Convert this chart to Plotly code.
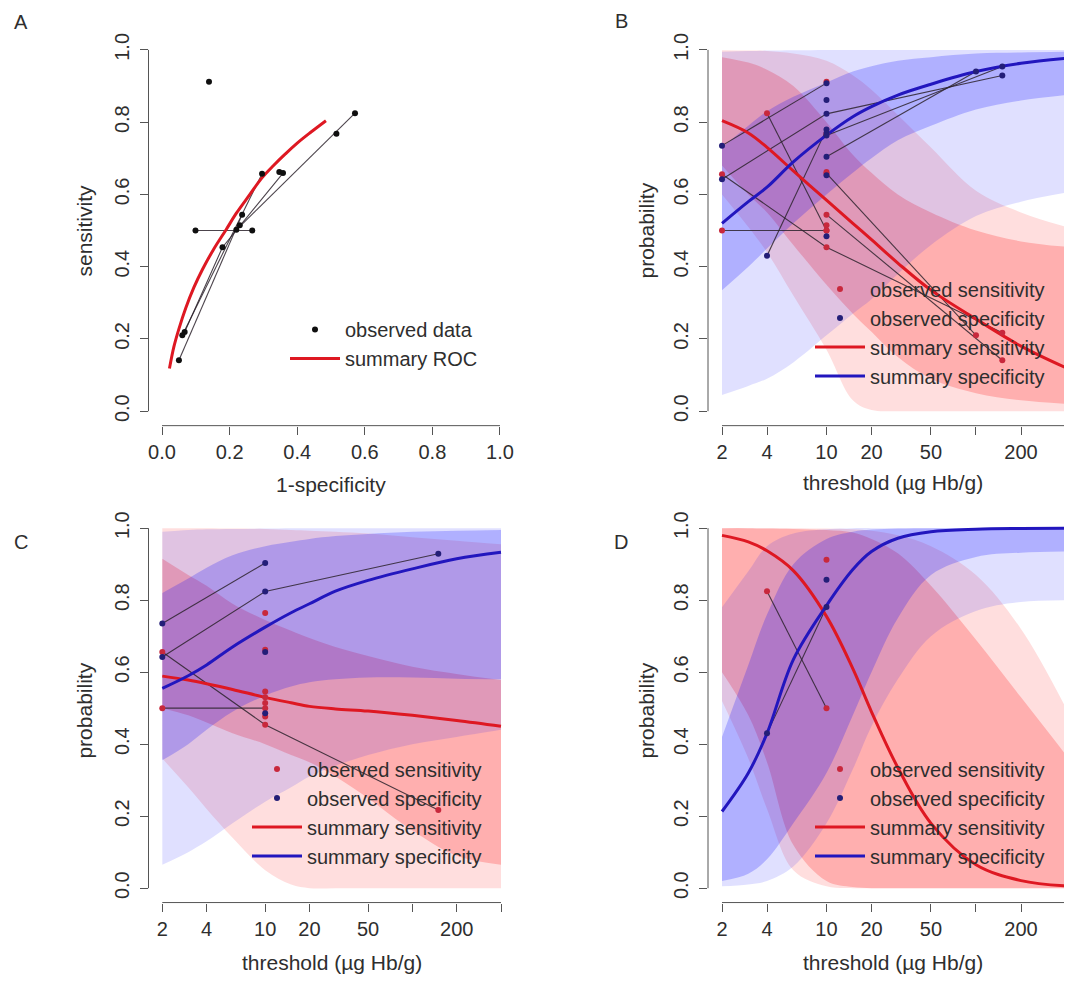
import math
import plotly.graph_objects as go

FONT = "Liberation Sans, Arial, Helvetica, sans-serif"
TXT = "#2e2e2e"
AXC = "#555555"
# the page body adds an offset of about (8, 10) px; the figure is placed so that
# reference pixel coordinates land where they belong
OX, OY = 8, 10
W, H = 1064, 973

# ---------------- Panel A : ROC space ----------------
obs_fpr = [0.139, 0.571, 0.516, 0.296, 0.347, 0.358, 0.237, 0.230, 0.220, 0.099, 0.267, 0.179, 0.067, 0.060, 0.050]
obs_tpr = [0.912, 0.825, 0.768, 0.657, 0.662, 0.659, 0.544, 0.515, 0.502, 0.500, 0.500, 0.454, 0.219, 0.210, 0.141]
roc_study_fpr = [[0.267, 0.099], [0.358, 0.179, 0.067], [0.571, 0.220], [0.296, 0.060], [0.237, 0.050]]
roc_study_tpr = [[0.500, 0.500], [0.659, 0.454, 0.219], [0.825, 0.502], [0.657, 0.210], [0.544, 0.141]]
sroc_fpr = [0.022, 0.035, 0.050, 0.070, 0.094, 0.120, 0.152, 0.190, 0.220, 0.260, 0.295, 0.330, 0.365, 0.400, 0.440, 0.485]
sroc_tpr = [0.118, 0.178, 0.228, 0.285, 0.342, 0.393, 0.447, 0.503, 0.548, 0.600, 0.645, 0.680, 0.712, 0.742, 0.772, 0.804]

# ---------------- threshold grid for panels B-D ----------------
THR = [2, 3, 4, 6, 10, 15, 20, 30, 50, 100, 200, 400]

# ---------------- Panel B ----------------
B_sens = [0.804, 0.770, 0.730, 0.665, 0.584, 0.520, 0.475, 0.410, 0.335, 0.255, 0.180, 0.120]
B_spec = [0.520, 0.580, 0.620, 0.690, 0.764, 0.815, 0.843, 0.875, 0.905, 0.940, 0.963, 0.977]
B_sens_ci_lo = [0.68, 0.60, 0.55, 0.46, 0.35, 0.27, 0.22, 0.15, 0.09, 0.05, 0.03, 0.02]
B_sens_ci_hi = [0.98, 0.965, 0.945, 0.90, 0.80, 0.71, 0.66, 0.60, 0.55, 0.50, 0.47, 0.455]
B_sens_pi_lo = [0.60, 0.51, 0.44, 0.32, 0.17, 0.03, 0.003, 0.0, 0.0, 0.0, 0.0, 0.0]
B_sens_pi_hi = [0.999, 0.998, 0.997, 0.99, 0.97, 0.93, 0.89, 0.82, 0.73, 0.61, 0.55, 0.51]
B_spec_ci_lo = [0.335, 0.40, 0.45, 0.52, 0.60, 0.66, 0.70, 0.75, 0.79, 0.835, 0.86, 0.875]
B_spec_ci_hi = [0.73, 0.79, 0.83, 0.87, 0.91, 0.94, 0.955, 0.97, 0.98, 0.99, 0.993, 0.995]
B_spec_pi_lo = [0.045, 0.07, 0.09, 0.135, 0.21, 0.27, 0.31, 0.38, 0.46, 0.54, 0.58, 0.605]
B_spec_pi_hi = [0.995, 0.997, 0.998, 0.999, 1.0, 1.0, 1.0, 1.0, 1.0, 1.0, 1.0, 1.0]
B_obs_sens_thr = [2, 2, 4, 10, 10, 10, 10, 10, 10, 10, 10, 10, 100, 150, 150]
B_obs_sens = [0.500, 0.656, 0.825, 0.912, 0.768, 0.662, 0.658, 0.544, 0.515, 0.500, 0.500, 0.454, 0.210, 0.217, 0.141]
B_obs_spec_thr = [2, 2, 4, 10, 10, 10, 10, 10, 10, 10, 10, 10, 100, 150, 150]
B_obs_spec = [0.735, 0.642, 0.430, 0.908, 0.861, 0.823, 0.780, 0.770, 0.763, 0.704, 0.653, 0.484, 0.940, 0.929, 0.954]
B_line_thr = [[2, 10], [2, 10, 150], [4, 10], [10, 100], [10, 150]]
B_line_sens = [[0.500, 0.500], [0.656, 0.454, 0.217], [0.825, 0.500], [0.658, 0.210], [0.544, 0.141]]
B_line_spec = [[0.735, 0.908], [0.642, 0.823, 0.929], [0.430, 0.780], [0.704, 0.940], [0.763, 0.954]]

# ---------------- Panel C ----------------
C_sens = [0.589, 0.578, 0.568, 0.552, 0.530, 0.515, 0.505, 0.498, 0.492, 0.480, 0.466, 0.450]
C_spec = [0.555, 0.590, 0.620, 0.670, 0.725, 0.765, 0.790, 0.825, 0.855, 0.887, 0.915, 0.933]
C_sens_ci_lo = [0.50, 0.48, 0.46, 0.43, 0.40, 0.37, 0.35, 0.31, 0.25, 0.16, 0.09, 0.065]
C_sens_ci_hi = [0.915, 0.87, 0.84, 0.79, 0.745, 0.715, 0.695, 0.67, 0.645, 0.615, 0.595, 0.578]
C_sens_pi_lo = [0.36, 0.28, 0.22, 0.14, 0.05, 0.01, 0.0, 0.0, 0.0, 0.0, 0.0, 0.0]
C_sens_pi_hi = [1.0, 1.0, 1.0, 0.999, 0.998, 0.995, 0.993, 0.99, 0.985, 0.975, 0.965, 0.955]
C_spec_ci_lo = [0.355, 0.40, 0.44, 0.49, 0.535, 0.56, 0.572, 0.58, 0.585, 0.585, 0.582, 0.58]
C_spec_ci_hi = [0.82, 0.86, 0.89, 0.925, 0.95, 0.962, 0.97, 0.978, 0.984, 0.99, 0.993, 0.995]
C_spec_pi_lo = [0.065, 0.10, 0.13, 0.18, 0.24, 0.28, 0.31, 0.34, 0.37, 0.40, 0.42, 0.44]
C_spec_pi_hi = [0.99, 0.995, 0.997, 0.998, 0.999, 1.0, 1.0, 1.0, 1.0, 1.0, 1.0, 1.0]
C_obs_sens_thr = [2, 2, 10, 10, 10, 10, 10, 10, 10, 10, 150]
C_obs_sens = [0.500, 0.656, 0.764, 0.662, 0.546, 0.530, 0.514, 0.500, 0.477, 0.454, 0.217]
C_obs_spec_thr = [2, 2, 10, 10, 10, 10, 150]
C_obs_spec = [0.735, 0.642, 0.903, 0.824, 0.656, 0.486, 0.929]
C_line_thr = [[2, 10], [2, 10, 150]]
C_line_sens = [[0.500, 0.500], [0.656, 0.454, 0.217]]
C_line_spec = [[0.735, 0.903], [0.642, 0.824, 0.929]]

# ---------------- Panel D ----------------
D_sens = [0.980, 0.962, 0.937, 0.882, 0.755, 0.610, 0.490, 0.335, 0.180, 0.065, 0.021, 0.006]
D_spec = [0.213, 0.320, 0.430, 0.635, 0.785, 0.885, 0.935, 0.972, 0.990, 0.997, 0.999, 0.9995]
D_sens_ci_lo = [0.60, 0.48, 0.35, 0.12, 0.02, 0.003, 0.0, 0.0, 0.0, 0.0, 0.0, 0.0]
D_sens_ci_hi = [1.0, 1.0, 0.999, 0.998, 0.995, 0.988, 0.97, 0.93, 0.84, 0.69, 0.53, 0.37]
D_sens_pi_lo = [0.52, 0.36, 0.22, 0.05, 0.005, 0.0, 0.0, 0.0, 0.0, 0.0, 0.0, 0.0]
D_sens_pi_hi = [1.0, 1.0, 1.0, 1.0, 0.999, 0.997, 0.993, 0.98, 0.95, 0.87, 0.72, 0.50]
D_spec_ci_lo = [0.02, 0.04, 0.08, 0.18, 0.32, 0.48, 0.60, 0.75, 0.87, 0.92, 0.932, 0.935]
D_spec_ci_hi = [0.42, 0.62, 0.76, 0.90, 0.97, 0.99, 0.996, 0.999, 1.0, 1.0, 1.0, 1.0]
D_spec_pi_lo = [0.005, 0.01, 0.02, 0.06, 0.18, 0.33, 0.45, 0.58, 0.70, 0.77, 0.795, 0.80]
D_spec_pi_hi = [0.78, 0.88, 0.95, 0.985, 0.997, 1.0, 1.0, 1.0, 1.0, 1.0, 1.0, 1.0]
D_obs_sens_thr = [4, 10, 10]
D_obs_sens = [0.825, 0.912, 0.500]
D_obs_spec_thr = [4, 10, 10]
D_obs_spec = [0.430, 0.857, 0.781]
D_line_thr = [[4, 10]]
D_line_sens = [[0.825, 0.500]]
D_line_spec = [[0.430, 0.781]]

# ---------------- tick labels ----------------
PROB_TICKS = [0, 0.2, 0.4, 0.6, 0.8, 1.0]
PROB_LABELS = ["0.0", "0.2", "0.4", "0.6", "0.8", "1.0"]
THR_TICKS = [2, 4, 10, 20, 50, 100, 200, 400]
THR_LABELS = ["2", "4", "10", "20", "50", "", "200", ""]

# ---------------- styling ----------------
RED_PI = "rgba(255,0,0,0.13)"
RED_CI = "rgba(255,0,0,0.21)"
BLUE_PI = "rgba(0,0,255,0.12)"
BLUE_CI = "rgba(0,0,255,0.21)"
RED_LINE = "rgb(222,24,34)"
BLUE_LINE = "rgb(34,22,190)"
RED_DOT = "rgb(200,40,60)"
BLUE_DOT = "rgb(35,30,120)"
STUDY_LINE = "rgba(45,35,45,0.85)"

fig = go.Figure()


def px_x(p):
    return (p - OX) / W


def px_y(p):
    return 1 - (p - OY) / H


LIN_RANGE = [-0.04, 1.04]
B_RANGE = [0.2074, 2.6422]
C_RANGE = [0.2073, 2.6870]

panels = {
    "A": dict(xa="x", ya="y", xd=[px_x(148.5), px_x(513.5)], yd=[px_y(426.5), px_y(35.5)]),
    "B": dict(xa="x2", ya="y2", xd=[px_x(708), px_x(1072)], yd=[px_y(426.5), px_y(35.5)]),
    "C": dict(xa="x3", ya="y3", xd=[px_x(148.5), px_x(513.5)], yd=[px_y(904.4), px_y(514.8)]),
    "D": dict(xa="x4", ya="y4", xd=[px_x(708), px_x(1072)], yd=[px_y(904.4), px_y(514.8)]),
}


def band(p, x, lo, hi, color):
    xa, ya = panels[p]["xa"], panels[p]["ya"]
    fig.add_trace(go.Scatter(x=x, y=lo, xaxis=xa, yaxis=ya, mode="lines",
                             line=dict(width=0, shape="spline"), showlegend=False, hoverinfo="skip"))
    fig.add_trace(go.Scatter(x=x, y=hi, xaxis=xa, yaxis=ya, mode="lines",
                             line=dict(width=0, shape="spline"), fill="tonexty", fillcolor=color,
                             showlegend=False, hoverinfo="skip"))


def threshold_panel(p, legend, sens, spec, sci_lo, sci_hi, spi_lo, spi_hi,
                    pci_lo, pci_hi, ppi_lo, ppi_hi, ls_thr, ls_sens, ls_spec,
                    os_thr, os_val, op_thr, op_val):
    xa, ya = panels[p]["xa"], panels[p]["ya"]
    band(p, THR, spi_lo, spi_hi, RED_PI)
    band(p, THR, sci_lo, sci_hi, RED_CI)
    band(p, THR, ppi_lo, ppi_hi, BLUE_PI)
    band(p, THR, pci_lo, pci_hi, BLUE_CI)
    for t, s in zip(ls_thr, ls_sens):
        fig.add_trace(go.Scatter(x=t, y=s, xaxis=xa, yaxis=ya, mode="lines",
                                 line=dict(color=STUDY_LINE, width=1.1), showlegend=False, hoverinfo="skip"))
    for t, s in zip(ls_thr, ls_spec):
        fig.add_trace(go.Scatter(x=t, y=s, xaxis=xa, yaxis=ya, mode="lines",
                                 line=dict(color=STUDY_LINE, width=1.1), showlegend=False, hoverinfo="skip"))
    fig.add_trace(go.Scatter(x=THR, y=sens, xaxis=xa, yaxis=ya, mode="lines", name="summary sensitivity",
                             line=dict(color=RED_LINE, width=3, shape="spline"), legend=legend, legendrank=3))
    fig.add_trace(go.Scatter(x=THR, y=spec, xaxis=xa, yaxis=ya, mode="lines", name="summary specificity",
                             line=dict(color=BLUE_LINE, width=3, shape="spline"), legend=legend, legendrank=4))
    fig.add_trace(go.Scatter(x=os_thr, y=os_val, xaxis=xa, yaxis=ya, mode="markers", name="observed sensitivity",
                             marker=dict(color=RED_DOT, size=6), legend=legend, legendrank=1))
    fig.add_trace(go.Scatter(x=op_thr, y=op_val, xaxis=xa, yaxis=ya, mode="markers", name="observed specificity",
                             marker=dict(color=BLUE_DOT, size=6), legend=legend, legendrank=2))


# Panel A traces
for fx_, ty_ in zip(roc_study_fpr, roc_study_tpr):
    fig.add_trace(go.Scatter(x=fx_, y=ty_, xaxis="x", yaxis="y", mode="lines",
                             line=dict(color=STUDY_LINE, width=1.1), showlegend=False, hoverinfo="skip"))
fig.add_trace(go.Scatter(x=sroc_fpr, y=sroc_tpr, xaxis="x", yaxis="y", mode="lines", name="summary ROC",
                         line=dict(color=RED_LINE, width=3, shape="spline"), legend="legend", legendrank=2))
fig.add_trace(go.Scatter(x=obs_fpr, y=obs_tpr, xaxis="x", yaxis="y", mode="markers", name="observed data",
                         marker=dict(color="rgb(15,15,15)", size=6), legend="legend", legendrank=1))

threshold_panel("B", "legend2", B_sens, B_spec, B_sens_ci_lo, B_sens_ci_hi, B_sens_pi_lo, B_sens_pi_hi,
                B_spec_ci_lo, B_spec_ci_hi, B_spec_pi_lo, B_spec_pi_hi, B_line_thr, B_line_sens, B_line_spec,
                B_obs_sens_thr, B_obs_sens, B_obs_spec_thr, B_obs_spec)
threshold_panel("C", "legend3", C_sens, C_spec, C_sens_ci_lo, C_sens_ci_hi, C_sens_pi_lo, C_sens_pi_hi,
                C_spec_ci_lo, C_spec_ci_hi, C_spec_pi_lo, C_spec_pi_hi, C_line_thr, C_line_sens, C_line_spec,
                C_obs_sens_thr, C_obs_sens, C_obs_spec_thr, C_obs_spec)
threshold_panel("D", "legend4", D_sens, D_spec, D_sens_ci_lo, D_sens_ci_hi, D_sens_pi_lo, D_sens_pi_hi,
                D_spec_ci_lo, D_spec_ci_hi, D_spec_pi_lo, D_spec_pi_hi, D_line_thr, D_line_sens, D_line_spec,
                D_obs_sens_thr, D_obs_sens, D_obs_spec_thr, D_obs_spec)

tickfont = dict(family=FONT, size=20, color=TXT)


def xaxis_def(p, log):
    d = dict(domain=panels[p]["xd"], anchor=panels[p]["ya"], showgrid=False, zeroline=False, showline=False,
             ticks="outside", ticklen=8, tickwidth=1, tickcolor=AXC, tickfont=tickfont, ticklabelstandoff=0)
    if log:
        d.update(type="log", range=B_RANGE if p in ("B", "D") else C_RANGE,
                 tickmode="array", tickvals=THR_TICKS, ticktext=THR_LABELS)
    else:
        d.update(range=LIN_RANGE, tickmode="array", tickvals=PROB_TICKS, ticktext=PROB_LABELS)
    return d


def yaxis_def(p):
    return dict(domain=panels[p]["yd"], anchor=panels[p]["xa"], showgrid=False, zeroline=False, showline=False,
                range=LIN_RANGE, tickmode="array", tickvals=PROB_TICKS, ticktext=PROB_LABELS,
                ticks="outside", ticklen=8, tickwidth=1, tickcolor=AXC, tickfont=tickfont,
                tickangle=-90, ticklabelstandoff=3)


def lin_frac(v):
    return (v - LIN_RANGE[0]) / (LIN_RANGE[1] - LIN_RANGE[0])


def log_frac(v, rng):
    return (math.log10(v) - rng[0]) / (rng[1] - rng[0])


shapes = []
for p in "ABCD":
    xa, ya = panels[p]["xa"], panels[p]["ya"]
    shapes.append(dict(type="line", xref=xa + " domain", yref=ya + " domain", x0=0, x1=0,
                       y0=lin_frac(0), y1=lin_frac(1), line=dict(color=AXC, width=1)))
    if p == "A":
        x0, x1 = lin_frac(0), lin_frac(1)
    else:
        rng = B_RANGE if p in ("B", "D") else C_RANGE
        x0, x1 = log_frac(2, rng), min(1.0, log_frac(400, rng))
    shapes.append(dict(type="line", xref=xa + " domain", yref=ya + " domain", x0=x0, x1=x1,
                       y0=0, y1=0, line=dict(color=AXC, width=1)))

annotations = []


def ann(text, x, y, angle=0, size=21):
    annotations.append(dict(text=text, x=px_x(x), y=px_y(y), xref="paper", yref="paper", showarrow=False,
                            textangle=angle, xanchor="center", yanchor="middle",
                            font=dict(family=FONT, size=size, color=TXT)))


ann("1-specificity", 331, 485)
ann("threshold (\u00b5g Hb/g)", 893, 483)
ann("threshold (\u00b5g Hb/g)", 332, 964)
ann("threshold (\u00b5g Hb/g)", 893, 964)
ann("sensitivity", 85, 231, -90)
ann("probability", 647, 231, -90)
ann("probability", 85, 712, -90)
ann("probability", 647, 712, -90)
ann("A", 21, 22, 0, 20)
ann("B", 621, 21, 0, 20)
ann("C", 21, 543, 0, 20)
ann("D", 621, 543, 0, 20)

legfont = dict(family=FONT, size=20, color=TXT)


def leg(x, y):
    return dict(x=px_x(x), y=px_y(y), xanchor="left", yanchor="top", bgcolor="rgba(0,0,0,0)",
                font=legfont, itemwidth=50, tracegroupgap=0, borderwidth=0, traceorder="normal")


fig.update_layout(
    width=W, height=H, margin=dict(l=0, r=0, t=0, b=0),
    paper_bgcolor="white", plot_bgcolor="white", showlegend=True,
    xaxis=xaxis_def("A", False), yaxis=yaxis_def("A"),
    xaxis2=xaxis_def("B", True), yaxis2=yaxis_def("B"),
    xaxis3=xaxis_def("C", True), yaxis3=yaxis_def("C"),
    xaxis4=xaxis_def("D", True), yaxis4=yaxis_def("D"),
    legend=leg(285, 310.5), legend2=leg(810, 270), legend3=leg(247, 751), legend4=leg(810, 751),
    shapes=shapes, annotations=annotations,
)

fig.write_html("out.html")
